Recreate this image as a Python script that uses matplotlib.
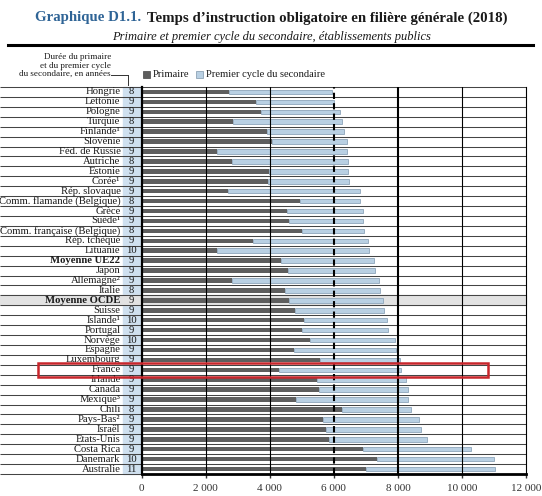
import matplotlib
matplotlib.use("Agg")
import matplotlib.pyplot as plt
from matplotlib.patches import Rectangle
from matplotlib.lines import Line2D

plt.rcParams['font.family'] = ['Liberation Serif', 'DejaVu Serif']

# Data (hours of compulsory instruction)
pays = ["Hongrie", "Lettonie", "Pologne", "Turquie", "Finlande¹", "Slovénie",
        "Féd. de Russie", "Autriche", "Estonie", "Corée¹", "Rép. slovaque",
        "Comm. flamande (Belgique)", "Grèce", "Suède¹", "Comm. française (Belgique)",
        "Rép. tchèque", "Lituanie", "Moyenne UE22", "Japon", "Allemagne²", "Italie",
        "Moyenne OCDE", "Suisse", "Islande¹", "Portugal", "Norvège", "Espagne",
        "Luxembourg", "France", "Irlande", "Canada", "Mexique³", "Chili",
        "Pays-Bas²", "Israël", "Etats-Unis", "Costa Rica", "Danemark", "Australie"]
annees = [8, 9, 9, 8, 9, 9, 9, 8, 9, 9, 9, 8, 9, 9, 8, 9, 10, 9, 9, 9, 8,
          9, 9, 10, 9, 10, 9, 9, 9, 9, 9, 9, 8, 9, 9, 9, 9, 10, 11]
primaire = [2740, 3580, 3720, 2860, 3900, 4080, 2360, 2810, 3980, 3950, 2700,
            4930, 4530, 4600, 5020, 3470, 2340, 4350, 4570, 2810, 4460,
            4600, 4790, 5080, 4990, 5270, 4750, 5560, 4300, 5460, 5530, 4810,
            6250, 5660, 5740, 5860, 6900, 7360, 6990]
total = [5940, 5990, 6200, 6250, 6330, 6400, 6400, 6430, 6430, 6470, 6830,
         6830, 6900, 6900, 6940, 7060, 7090, 7260, 7280, 7410, 7430,
         7550, 7580, 7660, 7680, 7900, 7930, 8080, 8110, 8240, 8300, 8300,
         8400, 8650, 8710, 8900, 10270, 10990, 11020]
gras = ["Moyenne UE22", "Moyenne OCDE"]
xticks = [0, 2000, 4000, 6000, 8000, 10000, 12000]
xticklabels = ["0", "2 000", "4 000", "6 000", "8 000", "10 000", "12 000"]

GRIS = "#5e5e5e"
BLEU = "#b9d0e3"
BLEU_COL = "#cfe0ef"
ROUGE = "#c8262c"
TITRE_BLEU = "#2f6496"

W, H = 542, 496
fig = plt.figure(figsize=(W / 100, H / 100), dpi=100)


def fx(px):
    return px / W


def fy(py):
    return 1 - py / H


X0, X1 = 141.7, 526.0


def xa(px):
    # pixel -> axes fraction
    return (px - X0) / (X1 - X0)


ax = fig.add_axes([fx(X0), fy(474), fx(X1) - fx(X0), fy(87) - fy(474)])
n = len(pays)
rows = list(range(n))
secondaire = [t - p for t, p in zip(total, primaire)]

ax.barh(rows, primaire, height=0.45, color=GRIS, zorder=2)
ax.barh(rows, secondaire, left=primaire, height=0.45, color=BLEU,
        edgecolor="#8ea5ba", linewidth=0.6, zorder=2)
ax.set_xlim(0, 12000)
ax.set_ylim(n - 0.5, -0.5)

ytr = ax.get_yaxis_transform()

# years column and OCDE highlight
ax.add_patch(Rectangle((xa(123), -0.5), xa(139.5) - xa(123), n, transform=ytr,
                       color=BLEU_COL, clip_on=False, zorder=0))
i_ocde = pays.index("Moyenne OCDE")
ax.add_patch(Rectangle((xa(0), i_ocde - 0.5), 1 - xa(0), 1, transform=ytr,
                       color="#e2e2e2", clip_on=False, zorder=0.5))

# row separators over the full width
ax.hlines([r + 0.5 for r in range(-1, n)], xa(0), 1, transform=ytr,
          color="#444444", linewidth=0.75, clip_on=False, zorder=1)

# vertical grid
for v in [2000, 4000, 10000]:
    ax.axvline(v, color="black", linewidth=0.8, zorder=3)
ax.axvline(6000, color="black", linewidth=1.5, linestyle=(0, (3, 2)), zorder=3)
ax.axvline(8000, color="black", linewidth=1.5, zorder=3)

ax.spines["top"].set_visible(False)
ax.spines["left"].set_linewidth(1.6)
ax.spines["bottom"].set_linewidth(2.0)
ax.spines["right"].set_linewidth(0.8)
for s in ax.spines.values():
    s.set_zorder(4)

ax.set_xticks(xticks, xticklabels)
ax.tick_params(axis="x", labelsize=8, length=3, width=1, pad=4, colors="#333333")
ax.set_yticks([])

# country labels and years
for i, (nom, a) in enumerate(zip(pays, annees)):
    w = "bold" if nom in gras else "normal"
    ax.text(xa(120.5), i, nom, transform=ytr, ha="right", va="center",
            fontsize=7.7, fontweight=w, color="#1a1a1a", zorder=5)
    ax.text(xa(131.5), i, str(a), transform=ytr, ha="center", va="center",
            fontsize=7.7, color="#1a1a1a", zorder=5)

# France highlight box
i_fr = pays.index("France")
ax.add_patch(Rectangle((xa(38), i_fr - 0.72), xa(488) - xa(38), 1.44,
                       transform=ytr, fill=False, edgecolor=ROUGE,
                       linewidth=1.8, clip_on=False, zorder=6))

# title
t1 = fig.text(fx(35), fy(18), "Graphique D1.1.", color=TITRE_BLEU,
              fontsize=10.7, fontweight="bold", va="center")
fig.canvas.draw()
bb = t1.get_window_extent()
fig.text(bb.x1 / W + fx(6), fy(18),
         "Temps d’instruction obligatoire en filière générale (2018)",
         color="#1a1a1a", fontsize=10.7, fontweight="bold", va="center")
fig.text(0.5, fy(37), "Primaire et premier cycle du secondaire, établissements publics",
         fontsize=9, style="italic", ha="center", va="center", color="#1a1a1a")
fig.add_artist(Line2D([fx(8), fx(533)], [fy(45), fy(45)], color="black",
                      linewidth=2.2))

# legend
fig.add_artist(Rectangle((fx(143), fy(78)), fx(7), fy(71) - fy(78),
                         facecolor=GRIS, edgecolor="#444444", linewidth=0.5))
fig.text(fx(153), fy(74.5), "Primaire", fontsize=7.6, va="center", color="#1a1a1a")
fig.add_artist(Rectangle((fx(196), fy(78)), fx(7), fy(71) - fy(78),
                         facecolor=BLEU, edgecolor="#7f96ab", linewidth=0.5))
fig.text(fx(206), fy(74.5), "Premier cycle du secondaire", fontsize=7.6,
         va="center", color="#1a1a1a")

# years column note
for k, ligne in enumerate(["Durée du primaire", "et du premier cycle",
                           "du secondaire, en années"]):
    fig.text(fx(111), fy(57 + 8.5 * k), ligne, fontsize=6.6, ha="right",
             va="center", color="#1a1a1a")
fig.add_artist(Line2D([fx(111), fx(128)], [fy(75), fy(75)], color="#333333",
                      linewidth=0.7))
fig.add_artist(Line2D([fx(128), fx(128)], [fy(75), fy(85)], color="#333333",
                      linewidth=0.7))

fig.savefig("out.png", dpi=100)
